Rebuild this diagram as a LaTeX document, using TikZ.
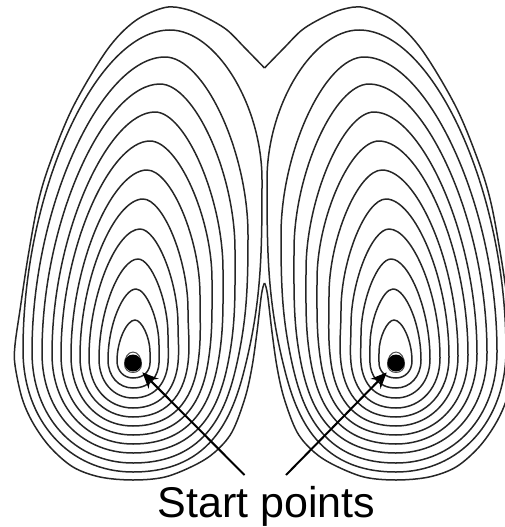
\documentclass[tikz,border=0pt]{standalone}
\usepackage{fontspec}
\setmainfont{Liberation Sans}
\usetikzlibrary{arrows.meta}
\tikzset{
  contour/.style={draw=black!85,line width=1.5pt,line join=round},
  startdot/.style={circle,fill=black,inner sep=0pt,minimum size=17pt},
  pointer/.style={draw=black,line width=2pt,shorten >=4.5pt,-{Stealth[length=16pt,width=14pt]}},
  caption/.style={font=\fontsize{43}{43}\selectfont,inner sep=0pt,anchor=base}
}
\newcommand{\lobeshape}{%
  \draw[contour] plot[smooth,tension=.55] coordinates {
    (264.5,68) (245,48) (227,30) (207,18) (187,9.5) (165,7.5) (135,21) (107,50) (73,107) (50,163)
    (38,203) (28,257) (20,310) (15,345) (15,365) (22,398) (33,423) (50,447) (73,467) (100,477)
    (133,480) (165,477) (195,465) (215,452) (232,432) (245,398) (252,367) (257,332) (261,298) (263,287) (264.5,283)};
  \foreach \Tx/\Ty/\Rx/\Ry/\Px/\m/\B/\Lx/\Ly/\ka in {
    170/30/262/180/246/.24/472/23/350/.50,
    165/57/248/235/237/.22/463/32/352/.47,
    160/84/235/250/228/.20/453/42/353/.46,
    155/112/223/270/218/.18/444/52/354/.45,
    150/141/212/280/208/.16/435/61/355/.45,
    147/170/200/295/198/.14/426/71/356/.45,
    143/199/188/310/188/.12/417/80/357/.45,
    140/229/178/325/178/.10/408/89/358/.45,
    138/259/168/335/168/.08/398/99/359/.45,
    136/289/159/345/159/.05/388/108/360/.45,
    135/320/150/352/150/.02/378/117/361/.45}{
    \pgfmathsetmacro{\aR}{\Tx+\ka*(\Rx-\Tx)}
    \pgfmathsetmacro{\bR}{\Ry-\ka*(\Ry-\Ty)}
    \pgfmathsetmacro{\Dd}{363-\Ry}
    \pgfmathsetmacro{\cy}{\Ry+.4*\Dd}
    \pgfmathsetmacro{\dx}{\Px+\m*.35*\Dd}
    \pgfmathsetmacro{\dy}{363-.35*\Dd}
    \pgfmathsetmacro{\Ee}{\B-363}
    \pgfmathsetmacro{\ex}{\Px-\m*.45*\Ee}
    \pgfmathsetmacro{\ey}{363+.45*\Ee}
    \pgfmathsetmacro{\fx}{133+.72*(\Px-133)}
    \pgfmathsetmacro{\gx}{133-.58*(133-\Lx)}
    \pgfmathsetmacro{\hy}{\Ly+.58*(\B-\Ly)}
    \pgfmathsetmacro{\iy}{\Ly-.5*(\Ly-\Ty)}
    \pgfmathsetmacro{\jx}{\Tx-\ka*(\Tx-\Lx)}
    \draw[contour] (\Tx,\Ty) .. controls (\aR,\Ty) and (\Rx,\bR) .. (\Rx,\Ry)
      .. controls (\Rx,\cy) and (\dx,\dy) .. (\Px,363)
      .. controls (\ex,\ey) and (\fx,\B) .. (133,\B)
      .. controls (\gx,\B) and (\Lx,\hy) .. (\Lx,\Ly)
      .. controls (\Lx,\iy) and (\jx,\Ty) .. (\Tx,\Ty) -- cycle;
  }
  \draw[contour,draw=black!70,line width=1pt] (133,352) .. controls (138,352) and (141.5,358) .. (141.5,364)
    .. controls (141.5,369) and (138,372.5) .. (133,372.5)
    .. controls (128,372.5) and (124.5,369) .. (124.5,364)
    .. controls (124.5,358) and (128,352) .. (133,352) -- cycle;
}
\begin{document}
\begin{tikzpicture}[x=1pt,y=-1pt]
  \useasboundingbox (0,0) rectangle (505,527);
  \lobeshape
  \begin{scope}[xshift=529pt,xscale=-1]
    \lobeshape
  \end{scope}
  \node[startdot] (dotL) at (133,363) {};
  \node[startdot] (dotR) at (396,363) {};
  \coordinate (tailL) at (244.5,475);
  \coordinate (tailR) at (286,475);
  \draw[pointer] (tailL) -- (dotL);
  \draw[pointer] (tailR) -- (dotR);
  \node[caption] (label) at (266.5,517) {Start points};
\end{tikzpicture}
\end{document}
